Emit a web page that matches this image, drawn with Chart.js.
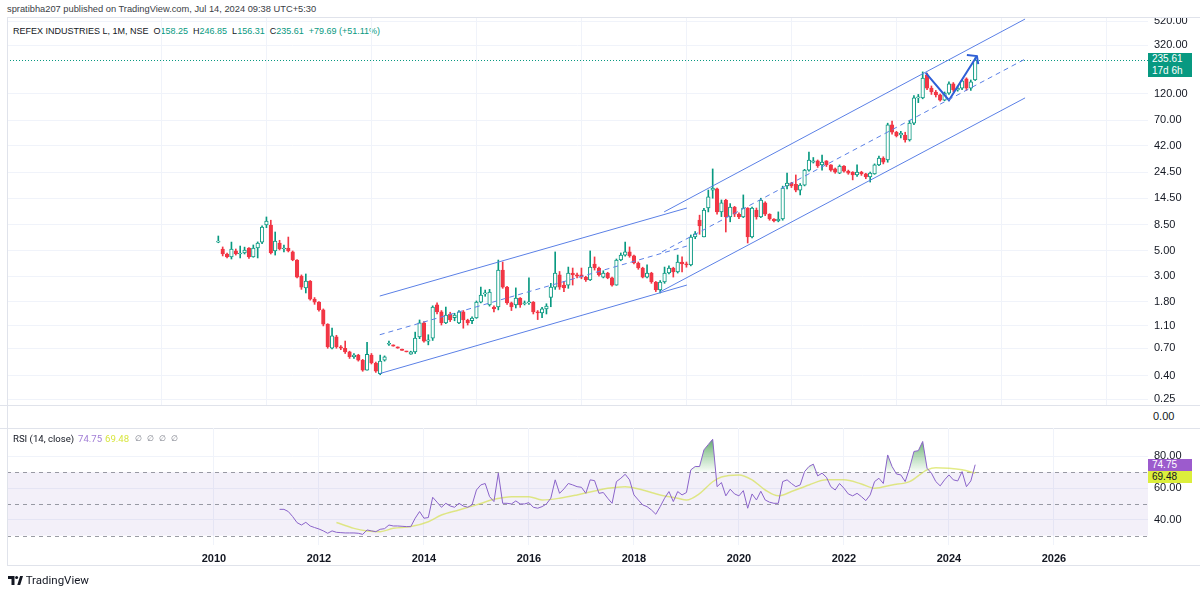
<!DOCTYPE html>
<html>
<head>
<meta charset="utf-8">
<script src="https://cdn.jsdelivr.net/npm/chart.js@4.4.1/dist/chart.umd.min.js"></script>
<style>
  body { margin:0; width:1200px; height:592px; background:#fff; position:relative; overflow:hidden;
         font-family:Roboto, "Liberation Sans", Arial, sans-serif; color:#131722; }
  .box { position:absolute; left:0; width:1200px; }
  .sep { position:absolute; height:1px; background:#e0e3eb; }
  .txt { position:absolute; font-size:9.6px; white-space:nowrap; }
  .hd { position:absolute; white-space:nowrap; font-family:"Liberation Sans", Arial, sans-serif; }
  .g { color:#089981; }
  .tag { position:absolute; left:1148px; width:40px; padding-left:4px; font-size:10px; line-height:12px;
         font-family:"Liberation Sans", Arial, sans-serif; }
</style>
</head>
<body>
<div class="hd" style="left:7px;top:4px;color:#3a3d45;font-size:9.3px">spratibha207 published on TradingView.com, Jul 14, 2024 09:38 UTC+5:30</div>
<div class="hd" style="left:13px;top:26px;font-size:9px">REFEX INDUSTRIES L, 1M, NSE&nbsp;&nbsp;O<span class="g">158.25</span>&nbsp;&nbsp;H<span class="g">246.85</span>&nbsp;&nbsp;L<span class="g">156.31</span>&nbsp;&nbsp;C<span class="g">235.61</span>&nbsp;&nbsp;<span class="g">+79.69 (+51.11%)</span></div>

<div class="box" style="top:0;height:406px"><canvas id="price"></canvas></div>
<div style="position:absolute;left:1148px;top:0;width:52px;height:17px;background:#fff"></div>
<div class="sep" style="left:7px;top:17px;width:1193px"></div>
<div class="sep" style="left:0;top:405px;width:1200px"></div>
<div class="txt" style="left:1153px;top:410px;font-size:11px;font-family:'Liberation Sans',Arial,sans-serif">0.00</div>
<div class="sep" style="left:0;top:428px;width:1200px"></div>
<div class="box" style="top:428px;height:164px"><canvas id="rsi"></canvas></div>
<div class="sep" style="left:7px;top:565px;width:1193px"></div>
<div style="position:absolute;left:7px;top:17px;width:1px;height:549px;background:#e0e3eb"></div>

<div class="txt" style="left:13px;top:433px">RSI (14, close)</div>
<div class="txt" style="left:78px;top:433px;color:#a27fd6">74.75</div>
<div class="txt" style="left:105px;top:433px;color:#d8e640">69.48</div>
<div class="txt" style="left:135px;top:434px;color:#787b86;font-size:8px;word-spacing:3px">&#8709; &#8709; &#8709; &#8709;</div>

<div class="tag" style="top:53px;height:24px;background:#089981;color:#fff">235.61<br>17d 6h</div>
<div class="tag" style="top:459px;height:12px;background:#9c5bcd;color:#fff">74.75</div>
<div class="tag" style="top:471px;height:12px;background:#dcee3c;color:#131722">69.48</div>

<div class="txt" style="left:8px;top:573px;font-size:11.5px;">
  <svg width="15" height="9" viewBox="0 0 15 9" style="vertical-align:-1px"><path d="M0 0h6.5v9H3.5V3H0z M9.3 9l2.8-9h2.9l-2.8 9z" fill="#131722"/><circle cx="8.6" cy="1.6" r="1.5" fill="#131722"/></svg>
  TradingView
</div>

<script>
// monthly bars, x = months since Jan 2010; first bar is Feb 2010
const firstMonth = 1;

const opens = [
  5.98, 5.20, 4.70, 4.43, 5.00, 4.70, 4.80, 5.31, 4.43, 5.31, 5.98, 8.45,
  8.45, 4.99, 5.87, 5.20, 5.31, 4.90, 4.16, 3.01, 2.37, 2.72, 1.89, 1.78,
  1.52, 1.14, 0.70, 0.88, 0.72, 0.70, 0.65, 0.59, 0.61, 0.55, 0.45, 0.61,
  0.52, 0.42, 0.55, 0.76, 0.75, 0.72, 0.69, 0.66, 0.62, 0.65, 0.88, 1.17,
  0.81, 0.86, 1.68, 1.46, 1.17, 1.40, 1.30, 1.17, 1.46, 1.24, 1.22, 1.29,
  1.78, 2.10, 1.68, 1.61, 1.61, 3.40, 2.41, 1.75, 1.68, 1.93, 1.72, 1.75,
  1.78, 1.46, 1.43, 1.55, 1.96, 2.41, 3.08, 2.51, 2.51, 3.20, 3.08, 3.08,
  2.95, 2.78, 3.84, 3.54, 2.95, 3.20, 2.90, 2.51, 4.16, 4.60, 4.90, 4.52,
  3.92, 3.54, 2.95, 3.20, 2.67, 2.27, 2.67, 3.20, 3.54, 3.27, 4.00, 3.84,
  3.77, 6.62, 9.33, 6.62, 11.9, 17.1, 17.5, 11.0, 14.0, 9.93, 12.1, 10.5,
  9.93, 11.9, 6.62, 11.4, 9.93, 13.2, 10.5, 9.53, 9.16, 9.53, 18.6, 19.7,
  19.2, 17.1, 18.9, 25.6, 30.1, 30.8, 28.4, 30.8, 28.4, 26.2, 24.1, 27.8,
  25.1, 24.6, 23.2, 24.6, 23.7, 22.3, 23.7, 28.4, 32.7, 31.4, 64.0, 55.0,
  52.0, 52.0, 47.0, 66.0, 110, 110, 175, 134, 124, 117, 105, 121,
  146, 129, 134, 162, 134, 158.25
];
const highs = [
  6.76, 5.42, 4.80, 5.98, 5.20, 5.52, 5.40, 5.35, 5.64, 6.00, 8.30, 9.93,
  9.30, 7.33, 6.20, 5.64, 6.62, 5.00, 4.20, 3.08, 3.14, 2.75, 1.95, 1.80,
  1.55, 1.15, 1.05, 0.91, 0.74, 0.81, 0.66, 0.63, 0.62, 0.56, 0.79, 0.63,
  0.53, 0.61, 0.60, 0.81, 0.75, 0.72, 0.69, 0.66, 0.66, 0.97, 1.24, 1.20,
  0.92, 1.65, 1.75, 1.50, 1.61, 1.45, 1.42, 1.50, 1.50, 1.26, 1.32, 1.82,
  2.41, 2.27, 2.30, 1.65, 4.16, 4.00, 2.45, 1.78, 2.37, 1.95, 1.82, 2.90,
  1.80, 1.50, 1.60, 1.72, 2.60, 4.90, 3.30, 2.70, 3.61, 3.54, 3.20, 3.54,
  3.00, 5.00, 4.43, 3.60, 3.35, 3.25, 2.95, 4.25, 4.80, 5.98, 5.42, 4.60,
  4.00, 3.60, 3.77, 3.25, 2.70, 2.75, 3.61, 3.70, 3.60, 4.60, 4.43, 4.00,
  6.90, 7.40, 10.3, 11.8, 17.1, 26.2, 17.8, 14.0, 14.2, 13.0, 12.3, 10.8,
  15.5, 12.0, 12.1, 11.9, 14.5, 13.5, 10.6, 9.60, 11.0, 18.5, 24.1, 20.0,
  23.2, 19.5, 26.0, 36.9, 33.0, 31.4, 34.7, 31.0, 28.6, 26.7, 28.4, 28.0,
  25.6, 24.8, 28.4, 25.0, 24.0, 24.6, 29.0, 34.0, 33.5, 66.0, 69.0, 56.0,
  56.0, 55.0, 70.0, 115, 118, 186, 182, 140, 128, 119, 124, 152,
  150, 140, 160, 165, 158, 246.85
];
const lows = [
  5.90, 4.52, 4.34, 4.25, 4.60, 4.34, 4.70, 4.30, 4.40, 4.34, 5.80, 8.00,
  4.70, 4.60, 5.10, 4.90, 4.90, 4.10, 2.90, 2.30, 2.14, 1.85, 1.70, 1.48,
  1.10, 0.70, 0.69, 0.70, 0.68, 0.63, 0.57, 0.57, 0.54, 0.44, 0.45, 0.51,
  0.43, 0.41, 0.54, 0.74, 0.73, 0.70, 0.67, 0.65, 0.62, 0.63, 0.85, 0.79,
  0.75, 0.82, 1.40, 1.12, 1.15, 1.20, 1.22, 1.15, 1.05, 1.12, 1.15, 1.28,
  1.75, 2.00, 1.64, 1.46, 1.52, 2.35, 1.70, 1.50, 1.58, 1.60, 1.68, 1.70,
  1.40, 1.25, 1.30, 1.40, 1.62, 2.30, 2.30, 2.20, 2.35, 2.51, 2.90, 2.85,
  2.70, 2.75, 3.40, 3.00, 2.90, 2.85, 2.45, 2.50, 4.10, 4.50, 4.40, 3.85,
  3.45, 2.90, 2.90, 2.60, 2.20, 2.14, 2.60, 3.15, 2.95, 3.20, 3.27, 3.60,
  3.70, 6.40, 7.00, 6.62, 11.0, 14.5, 10.5, 10.0, 7.33, 9.00, 10.0, 9.60,
  9.80, 5.87, 6.50, 9.50, 9.80, 10.2, 9.30, 9.00, 9.00, 9.30, 17.5, 18.0,
  16.5, 15.5, 18.6, 25.0, 29.5, 27.0, 25.6, 27.5, 25.0, 24.0, 23.8, 24.5,
  23.5, 21.0, 22.5, 23.0, 21.5, 20.1, 23.5, 28.0, 29.0, 30.0, 53.0, 50.0,
  49.0, 45.0, 46.0, 64.0, 100, 108, 130, 118, 112, 103, 104, 118,
  125, 126, 130, 128, 128, 156.31
];
const closes = [
  5.98, 4.70, 4.43, 5.20, 4.70, 4.80, 5.09, 4.43, 5.31, 5.87, 8.11, 9.16,
  4.80, 6.11, 5.20, 5.31, 4.99, 4.16, 2.95, 2.41, 2.72, 1.89, 1.78, 1.52,
  1.14, 0.72, 0.90, 0.72, 0.70, 0.65, 0.59, 0.61, 0.55, 0.45, 0.62, 0.52,
  0.44, 0.54, 0.59, 0.77, 0.73, 0.70, 0.67, 0.65, 0.65, 0.86, 1.17, 0.81,
  0.83, 1.61, 1.46, 1.17, 1.37, 1.24, 1.37, 1.46, 1.24, 1.17, 1.29, 1.78,
  2.05, 2.14, 2.18, 1.55, 3.40, 2.41, 1.75, 1.61, 1.93, 1.68, 1.75, 1.78,
  1.46, 1.43, 1.55, 1.64, 2.41, 3.20, 2.41, 2.37, 3.20, 3.08, 3.01, 2.95,
  2.78, 3.61, 3.54, 3.08, 3.20, 2.90, 2.51, 4.16, 4.60, 4.90, 4.52, 3.92,
  3.54, 2.95, 3.20, 2.67, 2.27, 2.67, 3.20, 3.54, 3.27, 4.00, 3.84, 3.77,
  6.62, 7.05, 8.28, 11.4, 14.9, 17.8, 11.0, 13.2, 9.93, 12.1, 10.5, 9.93,
  11.9, 6.62, 11.9, 9.93, 14.0, 10.5, 9.53, 9.16, 9.53, 17.8, 19.7, 18.6,
  17.1, 18.9, 25.6, 31.4, 30.8, 27.8, 30.1, 28.4, 25.6, 24.6, 27.8, 25.1,
  24.1, 23.2, 24.6, 23.7, 22.3, 24.1, 28.4, 32.7, 30.1, 64.0, 55.0, 51.0,
  54.0, 47.0, 66.0, 110, 112, 164, 134, 124, 117, 105, 121, 146,
  129, 134, 155, 134, 152, 235.61
];

const rsiStart = 15;
const rsiValues = [
  46.6, 46.6, 45.2, 42.0, 38.2, 36.7, 38.4, 36.1, 35.1, 34.2, 33.0, 31.5,
  33.0, 32.1, 31.9, 31.7, 31.7, 31.7, 31.5, 30.8, 33.6, 33.0, 32.5, 34.0,
  34.4, 36.7, 36.1, 36.1, 35.9, 35.7, 35.7, 41.0, 45.2, 41.0, 41.4, 54.2,
  51.1, 47.9, 50.4, 48.7, 47.9, 50.4, 48.7, 47.9, 49.4, 58.8, 62.0, 62.9,
  54.6, 51.5, 69.4, 50.4, 50.4, 50.0, 51.9, 50.0, 50.0, 50.8, 47.9, 47.3,
  48.3, 50.0, 53.6, 65.2, 56.7, 59.5, 62.9, 62.0, 60.9, 60.5, 56.7, 65.2,
  64.7, 56.7, 57.2, 53.6, 50.4, 64.1, 66.2, 68.7, 65.2, 55.7, 52.5, 49.4,
  48.3, 46.2, 43.5, 48.3, 53.6, 57.8, 51.5, 57.8, 55.7, 57.2, 71.5, 73.6,
  73.6, 84.1, 87.5, 90.8, 60.9, 63.5, 55.1, 59.3, 56.3, 55.1, 58.4, 47.3,
  56.3, 52.5, 58.0, 52.5, 51.1, 50.4, 50.4, 64.1, 65.2, 62.9, 60.9, 62.0,
  70.4, 73.6, 75.1, 67.7, 69.4, 66.8, 60.9, 58.8, 62.9, 59.9, 56.3, 55.1,
  56.7, 54.6, 52.1, 55.7, 64.1, 66.2, 62.9, 80.9, 73.6, 68.9, 68.3, 64.1,
  72.5, 83.1, 83.6, 89.4, 72.5, 69.4, 64.1, 61.4, 65.2, 68.3, 65.2, 64.5,
  70.4, 60.9, 64.5, 74.75
];
// RSI-based MA, read at these months
const maMonths = [28, 32, 35, 38, 41, 45, 49, 52, 56, 60, 64, 68, 72, 75, 79, 83, 87, 90, 94, 98, 102, 106,
  108, 111, 114, 116, 120, 123, 126, 129, 132, 136, 140, 144, 148, 151, 155, 159, 163, 165, 168, 171, 174];
const maValues = [38.3, 34.6, 33.0, 32.5, 34.6, 35.7, 38.8, 43.0, 46.2, 49.4, 52.9, 54.6, 54.6, 52.5, 53.6, 55.7,
  58.2, 59.9, 60.9, 58.8, 55.7, 53.6, 52.5, 56.5, 64.0, 67.0, 68.3, 65.2, 58.8, 55.1, 57.8, 62.0, 65.2, 65.2,
  62.6, 59.9, 62.0, 64.1, 71.5, 72.9, 72.5, 71.5, 69.48];

const priceTicks = [0.25, 0.4, 0.7, 1.1, 1.8, 3, 5, 8.5, 14.5, 24.5, 42, 70, 120, 320, 520];
const rsiTicks = [40, 60, 80];
const rsiLevels = [70, 50, 30];
const yearTicks = [2010, 2012, 2014, 2016, 2018, 2020, 2022, 2024, 2026];

// trend drawings, anchor points as [month, price]
const chan1Upper = [[37.9, 2.01], [108.1, 11.9]];
const chan1Mid = [[37.9, 0.92], [108.1, 5.52]];
const chan1Lower = [[37.9, 0.42], [108.1, 2.51]];
const chan2Upper = [[102.9, 11.0], [185.4, 541]];
const chan2Mid = [[102.4, 4.90], [185.4, 241]];
const chan2Lower = [[101.9, 2.18], [185.4, 110]];
const zigzag = [[162.7, 182], [168, 105], [174.4, 256]];
const arrowHead = [[172.1, 262], [174.4, 256], [174.7, 218]];

const UP = '#089981', DOWN = '#f23645', GRID = '#f0f3fa';
const CHAN = '#5b80e6', ARROW = '#2f5fd6';
const xMin = -47.3, xMax = 213.5;

Chart.defaults.font.family = '"Liberation Sans", Arial, sans-serif';

const isUp = closes.map((c, i) => c >= opens[i]);
const candleColor = isUp.map(u => u ? UP : DOWN);
const bodyFill = isUp.map(u => u ? '#ffffff' : DOWN);
const wickData = opens.map((o, i) => ({ x: firstMonth + i, y: [lows[i], highs[i]] }));
const bodyData = opens.map((o, i) => ({ x: firstMonth + i, y: [o, closes[i]] }));

function seg(pts, color, width, dash) {
  return {
    type: 'line', data: pts.map(p => ({ x: p[0], y: p[1] })), borderColor: color,
    borderWidth: width, borderDash: dash || [], pointRadius: 0, fill: false, order: 0
  };
}

const yearAxisTicks = s => { s.ticks = yearTicks.map(y => ({ value: (y - 2010) * 12 })); };

const lastPriceLine = {
  id: 'lastPriceLine',
  beforeDatasetsDraw(chart) {
    const { ctx, chartArea: a, scales: { y } } = chart;
    const py = Math.round(y.getPixelForValue(closes[closes.length - 1])) + 0.5;
    ctx.save();
    ctx.strokeStyle = UP;
    ctx.lineWidth = 1;
    ctx.setLineDash([1, 2]);
    ctx.beginPath(); ctx.moveTo(a.left, py); ctx.lineTo(a.right, py); ctx.stroke();
    ctx.restore();
  }
};

new Chart(document.getElementById('price'), {
  type: 'bar',
  data: {
    datasets: [
      { type: 'bar', data: wickData, backgroundColor: candleColor, barThickness: 1, grouped: false, order: 3 },
      { type: 'bar', data: bodyData, backgroundColor: bodyFill, borderColor: candleColor, borderWidth: 1,
        borderSkipped: false, barThickness: 3.6, minBarLength: 1, grouped: false, order: 2 },
      seg(chan1Upper, CHAN, 1), seg(chan1Mid, CHAN, 1, [5, 4]), seg(chan1Lower, CHAN, 1),
      seg(chan2Upper, CHAN, 1), seg(chan2Mid, CHAN, 1, [5, 4]), seg(chan2Lower, CHAN, 1),
      seg(zigzag, ARROW, 2), seg(arrowHead, ARROW, 2)
    ]
  },
  options: {
    responsive: true, maintainAspectRatio: false, animation: false, events: [],
    layout: { padding: { left: 7, top: 18, right: 0, bottom: 1 } },
    plugins: { legend: { display: false }, tooltip: { enabled: false } },
    scales: {
      x: {
        type: 'linear', min: xMin, max: xMax, offset: false, bounds: 'data',
        grid: { color: GRID, drawTicks: false }, border: { display: false },
        ticks: { display: false },
        afterBuildTicks: yearAxisTicks,
        afterFit: s => { s.height = 0; }
      },
      y: {
        type: 'logarithmic', position: 'right', min: 0.2226, max: 552.5, bounds: 'data',
        grid: { color: GRID, drawTicks: false }, border: { display: false },
        ticks: { color: '#131722', font: { size: 11 }, padding: 6, callback: v => Number(v).toFixed(2) },
        afterBuildTicks: s => { s.ticks = priceTicks.map(v => ({ value: v })); },
        afterFit: s => { s.width = 52; s.paddingTop = 0; s.paddingBottom = 0; }
      }
    }
  },
  plugins: [lastPriceLine]
});

const rsiBands = {
  id: 'rsiBands',
  beforeDatasetsDraw(chart) {
    const { ctx, chartArea: a, scales: { y } } = chart;
    const top = y.getPixelForValue(rsiLevels[0]), bottom = y.getPixelForValue(rsiLevels[2]);
    ctx.save();
    ctx.fillStyle = 'rgba(126,87,194,0.09)';
    ctx.fillRect(a.left, top, a.right - a.left, bottom - top);
    ctx.strokeStyle = 'rgba(120,123,134,0.75)';
    ctx.lineWidth = 1;
    ctx.setLineDash([4, 4]);
    rsiLevels.forEach(v => {
      const p = Math.round(y.getPixelForValue(v)) + 0.5;
      ctx.beginPath(); ctx.moveTo(a.left, p); ctx.lineTo(a.right, p); ctx.stroke();
    });
    ctx.restore();
  }
};

function overboughtFill(context) {
  const chart = context.chart;
  if (!chart.chartArea) return 'transparent';
  const y = chart.scales.y;
  const g = chart.ctx.createLinearGradient(0, y.getPixelForValue(92), 0, y.getPixelForValue(70));
  g.addColorStop(0, 'rgba(46,140,60,0.8)');
  g.addColorStop(1, 'rgba(76,175,80,0.03)');
  return g;
}

new Chart(document.getElementById('rsi'), {
  type: 'line',
  data: {
    datasets: [
      { data: rsiValues.map((v, i) => ({ x: rsiStart + i, y: v })), borderColor: '#8a63c9', borderWidth: 1,
        pointRadius: 0, backgroundColor: overboughtFill,
        fill: { target: { value: 70 }, below: 'transparent' }, order: 1 },
      { data: maMonths.map((m, i) => ({ x: m, y: maValues[i] })), borderColor: 'rgba(212,224,70,0.65)',
        borderWidth: 1.5, pointRadius: 0, cubicInterpolationMode: 'monotone', fill: false, order: 2 }
    ]
  },
  options: {
    responsive: true, maintainAspectRatio: false, animation: false, events: [],
    layout: { padding: { left: 7, top: 0, right: 0, bottom: 0 } },
    plugins: { legend: { display: false }, tooltip: { enabled: false } },
    scales: {
      x: {
        type: 'linear', min: xMin, max: xMax, offset: false, bounds: 'data',
        grid: { color: GRID, drawTicks: false }, border: { display: false },
        ticks: { color: '#131722', font: { size: 11, weight: 'bold' }, padding: 7, maxRotation: 0,
                 callback: v => String(2010 + v / 12) },
        afterBuildTicks: yearAxisTicks,
        afterFit: s => { s.height = 47; s.paddingLeft = 0; s.paddingRight = 0; }
      },
      y: {
        type: 'linear', position: 'right', min: 24.1, max: 97.9, bounds: 'data',
        grid: { color: GRID, drawTicks: false }, border: { display: false },
        ticks: { color: '#131722', font: { size: 11 }, padding: 6, callback: v => Number(v).toFixed(2) },
        afterBuildTicks: s => { s.ticks = rsiTicks.map(v => ({ value: v })); },
        afterFit: s => { s.width = 52; s.paddingTop = 0; s.paddingBottom = 0; }
      }
    }
  },
  plugins: [rsiBands]
});
</script>
</body>
</html>
